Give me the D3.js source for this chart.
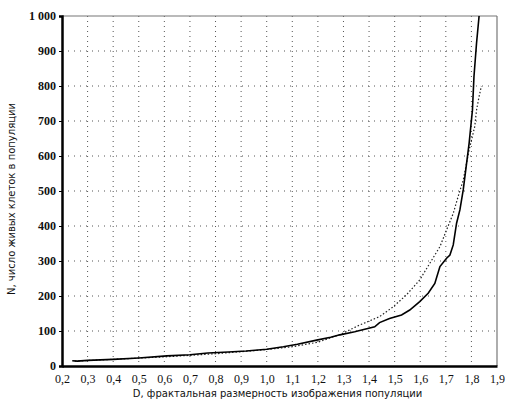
<!DOCTYPE html>
<html>
<head>
<meta charset="utf-8">
<script src="https://cdn.jsdelivr.net/npm/d3@7"></script>
<style>
  body { margin: 0; background: #fff; }
</style>
</head>
<body>
<script>
// measured curve (solid): fractal dimension D -> N
var solidD = [0.24, 0.26, 0.3, 0.4, 0.5, 0.61, 0.7, 0.77, 0.85, 0.92, 1.0, 1.065, 1.12, 1.195, 1.25, 1.286, 1.344, 1.422, 1.441, 1.48, 1.527, 1.559, 1.598, 1.631, 1.657, 1.677, 1.703, 1.716, 1.729, 1.742, 1.755, 1.768, 1.791, 1.804, 1.81, 1.82, 1.83];
var solidN = [15, 14, 16, 19, 23, 29, 32, 37, 40, 43, 48, 55, 62, 74, 82, 89, 98, 112, 124, 136, 146, 160, 184, 208, 236, 284, 308, 317, 346, 408, 446, 503, 636, 731, 827, 922, 1000];
// fitted curve (dotted)
var fitD = [0.25, 0.4, 0.6, 0.8, 1.0, 1.1, 1.2, 1.29, 1.363, 1.441, 1.494, 1.546, 1.598, 1.637, 1.677, 1.703, 1.729, 1.748, 1.768, 1.791, 1.813, 1.82, 1.83, 1.839];
var fitN = [14, 19, 26, 35, 47, 55, 68, 91, 117, 141, 169, 203, 246, 293, 341, 389, 436, 484, 531, 617, 684, 731, 770, 800];

var xTicks = [0.2, 0.3, 0.4, 0.5, 0.6, 0.7, 0.8, 0.9, 1.0, 1.1, 1.2, 1.3, 1.4, 1.5, 1.6, 1.7, 1.8, 1.9];
var yTicks = [0, 100, 200, 300, 400, 500, 600, 700, 800, 900, 1000];

var w = 505, h = 403;
var plotLeft = 62, plotRight = 497, plotTop = 16, plotBottom = 366;

var svg = d3.select('body').append('svg')
    .attr('width', w)
    .attr('height', h);

var x = d3.scaleLinear().domain([0.2, 1.9]).range([plotLeft, plotRight]);
var y = d3.scaleLinear().domain([0, 1000]).range([plotBottom, plotTop]);

// grid
svg.append('g').selectAll('line').data(xTicks.slice(1, -1)).enter().append('line')
    .attr('x1', function(d){ return x(d); })
    .attr('x2', function(d){ return x(d); })
    .attr('y1', plotTop).attr('y2', plotBottom)
    .attr('stroke', '#555').attr('stroke-width', 1)
    .attr('stroke-dasharray', '1,4');
svg.append('g').selectAll('line').data(yTicks.slice(1, -1)).enter().append('line')
    .attr('x1', plotLeft).attr('x2', plotRight)
    .attr('y1', function(d){ return y(d); })
    .attr('y2', function(d){ return y(d); })
    .attr('stroke', '#555').attr('stroke-width', 1)
    .attr('stroke-dasharray', '1,5');

// frame top / right
svg.append('line').attr('x1', plotLeft).attr('x2', plotRight).attr('y1', plotTop).attr('y2', plotTop)
    .attr('stroke', '#777').attr('stroke-width', 1.2);
svg.append('line').attr('x1', plotRight).attr('x2', plotRight).attr('y1', plotTop).attr('y2', plotBottom)
    .attr('stroke', '#777').attr('stroke-width', 1.2);

// axes
var xAxis = svg.append('g')
    .attr('transform', 'translate(0,' + plotBottom + ')')
    .call(d3.axisBottom(x).tickValues(xTicks).tickSize(0).tickPadding(8)
        .tickFormat(function(d){ return d3.format('.1f')(d).replace('.', ','); }));
var yAxis = svg.append('g')
    .attr('transform', 'translate(' + plotLeft + ',0)')
    .call(d3.axisLeft(y).tickValues(yTicks).tickSize(3).tickPadding(3)
        .tickFormat(function(d){ return d == 1000 ? '1 000' : d; }));

xAxis.select('.domain').attr('stroke', '#000').attr('stroke-width', 2.5);
yAxis.select('.domain').attr('stroke', '#000').attr('stroke-width', 2.5);
xAxis.selectAll('text').attr('font-family', 'Liberation Serif').attr('font-size', 12).attr('fill', '#111');
yAxis.selectAll('text').attr('font-family', 'Liberation Serif').attr('font-size', 12)
    .attr('font-weight', 'bold').attr('fill', '#111');

// lines
var line = d3.line()
    .x(function(d){ return x(d[0]); })
    .y(function(d){ return y(d[1]); });

svg.append('path')
    .datum(d3.zip(fitD, fitN))
    .attr('d', line)
    .attr('fill', 'none')
    .attr('stroke', '#222')
    .attr('stroke-width', 1.2)
    .attr('stroke-dasharray', '1.5,2');

svg.append('path')
    .datum(d3.zip(solidD, solidN))
    .attr('d', line)
    .attr('fill', 'none')
    .attr('stroke', '#000')
    .attr('stroke-width', 1.6);

// titles
svg.append('text')
    .attr('x', (plotLeft + plotRight) / 2 - 2)
    .attr('y', 397)
    .attr('text-anchor', 'middle')
    .attr('font-family', 'DejaVu Sans')
    .attr('font-size', 10)
    .attr('fill', '#111')
    .text('D, фрактальная размерность изображения популяции');

svg.append('text')
    .attr('transform', 'translate(15,' + ((plotTop + plotBottom) / 2 + 8) + ') rotate(-90)')
    .attr('text-anchor', 'middle')
    .attr('font-family', 'DejaVu Sans')
    .attr('font-size', 10)
    .attr('fill', '#111')
    .text('N, число живых клеток в популяции');
</script>
</body>
</html>
